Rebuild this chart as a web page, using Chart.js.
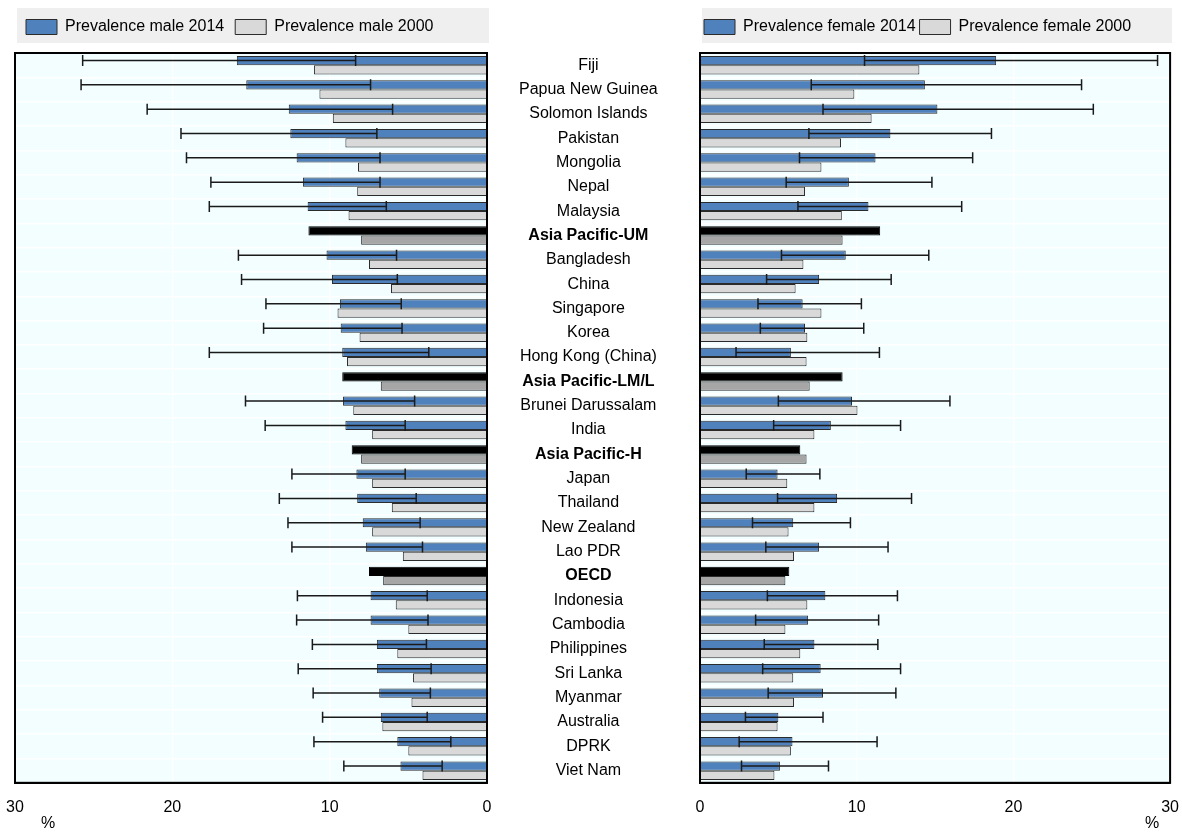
<!DOCTYPE html>
<html>
<head>
<meta charset="utf-8">
<script src="https://cdn.jsdelivr.net/npm/chart.js@4/dist/chart.umd.min.js"></script>
<style>
  body { margin: 0; background: #fff; }
  #wrap { position: relative; width: 1182px; height: 834px; }
  .box { position: absolute; top: 0; height: 834px; }
</style>
</head>
<body>
<div id="wrap">
  <div class="box" style="left:0;width:700px"><canvas id="maleChart"></canvas></div>
  <div class="box" style="left:690px;width:492px"><canvas id="femaleChart"></canvas></div>
</div>
<script>
const categories = ['Fiji', 'Papua New Guinea', 'Solomon Islands', 'Pakistan', 'Mongolia', 'Nepal', 'Malaysia',
  'Asia Pacific-UM', 'Bangladesh', 'China', 'Singapore', 'Korea', 'Hong Kong (China)', 'Asia Pacific-LM/L',
  'Brunei Darussalam', 'India', 'Asia Pacific-H', 'Japan', 'Thailand', 'New Zealand', 'Lao PDR', 'OECD',
  'Indonesia', 'Cambodia', 'Philippines', 'Sri Lanka', 'Myanmar', 'Australia', 'DPRK', 'Viet Nam'];
const aggregates = ['Asia Pacific-UM', 'Asia Pacific-LM/L', 'Asia Pacific-H', 'OECD'];

const male2014 = [15.9, 15.3, 12.6, 12.5, 12.1, 11.7, 11.4, 11.35, 10.2, 9.85, 9.35, 9.3, 9.2, 9.2, 9.15, 9.0,
  8.6, 8.3, 8.25, 7.9, 7.7, 7.5, 7.4, 7.4, 7.0, 7.0, 6.85, 6.75, 5.7, 5.5];
const male2000 = [11.0, 10.65, 9.8, 9.0, 8.2, 8.25, 8.8, 8.0, 7.5, 6.1, 9.5, 8.1, 8.9, 6.75, 8.5, 7.3,
  8.0, 7.3, 6.05, 7.3, 5.35, 6.6, 5.8, 5.0, 5.7, 4.7, 4.8, 6.65, 5.0, 4.1];
const maleLow = [8.35, 7.4, 6.0, 7.0, 6.8, 6.8, 6.4, null, 5.75, 5.7, 5.45, 5.4, 3.7, null, 4.6, 5.2,
  null, 5.2, 4.5, 4.25, 4.1, null, 3.8, 3.75, 3.85, 3.55, 3.6, 3.8, 2.3, 2.85];
const maleHigh = [25.7, 25.8, 21.6, 19.45, 19.1, 17.55, 17.65, null, 15.8, 15.6, 14.05, 14.2, 17.65, null, 15.35, 14.1,
  null, 12.4, 13.2, 12.65, 12.4, null, 12.05, 12.1, 11.1, 12.0, 11.05, 10.45, 11.0, 9.1];

const female2014 = [18.9, 14.35, 15.15, 12.15, 11.2, 9.5, 10.75, 11.5, 9.3, 7.6, 6.55, 6.7, 5.8, 9.1, 9.7, 8.35,
  6.4, 4.95, 8.75, 5.95, 7.6, 5.7, 8.0, 6.9, 7.3, 7.7, 7.85, 5.0, 5.9, 5.1];
const female2000 = [14.0, 9.85, 10.95, 9.0, 7.75, 6.7, 9.05, 9.1, 6.6, 6.1, 7.75, 6.85, 6.8, 7.0, 10.05, 7.3,
  6.8, 5.57, 7.3, 5.65, 6.0, 5.45, 6.85, 5.45, 6.4, 5.95, 6.0, 4.95, 5.8, 4.75];
const femaleLow = [10.5, 7.1, 7.85, 6.95, 6.35, 5.5, 6.25, null, 5.2, 4.25, 3.7, 3.85, 2.3, null, 5.0, 4.7,
  null, 2.95, 4.95, 3.35, 4.2, null, 4.3, 3.55, 4.1, 4.0, 4.35, 2.9, 2.5, 2.65];
const femaleHigh = [29.2, 24.35, 25.1, 18.6, 17.4, 14.8, 16.7, null, 14.6, 12.2, 10.3, 10.45, 11.45, null, 15.95, 12.8,
  null, 7.65, 13.5, 9.6, 12.0, null, 12.6, 11.4, 11.35, 12.8, 12.5, 7.85, 11.3, 8.2];

const xTicks = [0, 10, 20, 30];

const BLUE = '#4f81bd';
const LIGHT = '#d9d9d9';
const isAgg = i => aggregates.includes(categories[i]);

Chart.defaults.font.family = '"Liberation Sans", Arial, sans-serif';
Chart.defaults.font.size = 16;
Chart.defaults.color = '#000';

// plot background, legend band, frame and the % unit
const framePlugin = {
  id: 'frame',
  beforeDraw(chart) {
    const { ctx, chartArea: a } = chart;
    ctx.save();
    ctx.fillStyle = '#efefef';
    ctx.fillRect(a.left + 2, a.top - 45, a.right - a.left, 35);
    ctx.fillStyle = '#f2feff';
    ctx.fillRect(a.left, a.top, a.right - a.left, a.bottom - a.top);
    ctx.restore();
  },
  afterDraw(chart, args, opts) {
    const { ctx, chartArea: a } = chart;
    ctx.save();
    ctx.strokeStyle = '#000';
    ctx.lineWidth = 2;
    ctx.strokeRect(a.left, a.top, a.right - a.left, a.bottom - a.top);
    ctx.fillStyle = '#000';
    ctx.font = '16px "Liberation Sans", Arial, sans-serif';
    ctx.textAlign = 'center';
    ctx.textBaseline = 'middle';
    ctx.fillText('%', opts.side === 'left' ? a.left + 33 : a.right - 18, a.bottom + 41);
    ctx.restore();
  }
};

const errorBarPlugin = {
  id: 'errorBars',
  afterDatasetsDraw(chart, args, opts) {
    const { ctx } = chart;
    const meta = chart.getDatasetMeta(0);
    const x = chart.scales.x;
    ctx.save();
    ctx.strokeStyle = '#1a1a1a';
    ctx.lineWidth = 1.5;
    meta.data.forEach((bar, i) => {
      if (opts.low[i] == null) return;
      const x1 = x.getPixelForValue(opts.low[i]);
      const x2 = x.getPixelForValue(opts.high[i]);
      const y = bar.y;
      ctx.beginPath();
      ctx.moveTo(x1, y); ctx.lineTo(x2, y);
      ctx.moveTo(x1, y - 5.5); ctx.lineTo(x1, y + 5.5);
      ctx.moveTo(x2, y - 5.5); ctx.lineTo(x2, y + 5.5);
      ctx.stroke();
    });
    ctx.restore();
  }
};

function makeChart(id, side, v2014, v2000, low, high, label2014, label2000) {
  const left = side === 'left';
  return new Chart(document.getElementById(id), {
    type: 'bar',
    data: {
      labels: categories,
      datasets: [
        {
          label: label2014,
          data: v2014,
          backgroundColor: c => (c.type === 'data' && isAgg(c.dataIndex) ? '#000' : BLUE),
          borderColor: c => (c.type === 'data' && isAgg(c.dataIndex) ? '#000' : '#2b2b2b'),
          borderWidth: 1,
          categoryPercentage: 0.76,
          barPercentage: 1,
        },
        {
          label: label2000,
          data: v2000,
          backgroundColor: c => (c.type === 'data' && isAgg(c.dataIndex) ? '#a6a6a6' : LIGHT),
          borderColor: '#2b2b2b',
          borderWidth: 1,
          categoryPercentage: 0.76,
          barPercentage: 1,
        },
      ],
    },
    plugins: [framePlugin, errorBarPlugin],
    options: {
      indexAxis: 'y',
      responsive: true,
      maintainAspectRatio: false,
      animation: false,
      layout: { padding: left ? { left: 15, top: 8, bottom: 14 } : { left: 10, right: 11, top: 15, bottom: 14 } },
      scales: {
        x: {
          reverse: left,
          min: 0,
          max: 30,
          afterBuildTicks: s => { s.ticks = xTicks.map(v => ({ value: v })); },
          ticks: { padding: 3, color: '#000' },
          grid: { color: '#fff', lineWidth: 1.5, drawTicks: true, tickLength: 12, tickColor: 'rgba(0,0,0,0)' },
          border: { color: '#000', width: 2 },
        },
        // spacer between legend and plot
        gap: {
          type: 'linear',
          position: 'top',
          ticks: { display: false },
          grid: { display: false, drawTicks: false },
          border: { display: false },
          afterFit: s => { s.height = 8; },
        },
        y: {
          position: left ? 'right' : 'left',
          afterFit: s => { s.width = left ? 213 : 0; },
          ticks: {
            display: left,
            crossAlign: 'center',
            padding: 32,
            color: '#000',
            font: c => ({ size: 16, weight: isAgg(c.index) ? 'bold' : 'normal' }),
          },
          grid: { color: '#fff', lineWidth: 1.5, drawTicks: false },
          border: { color: '#000', width: 2 },
        },
      },
      plugins: {
        legend: {
          align: 'start',
          labels: { boxWidth: 31, boxHeight: 15, padding: left ? 11 : 4, color: '#000' },
        },
        tooltip: { enabled: false },
        frame: { side },
        errorBars: { low, high },
      },
    },
  });
}

makeChart('maleChart', 'left', male2014, male2000, maleLow, maleHigh, 'Prevalence male 2014', 'Prevalence male 2000');
makeChart('femaleChart', 'right', female2014, female2000, femaleLow, femaleHigh, 'Prevalence female 2014', 'Prevalence female 2000');
</script>
</body>
</html>
